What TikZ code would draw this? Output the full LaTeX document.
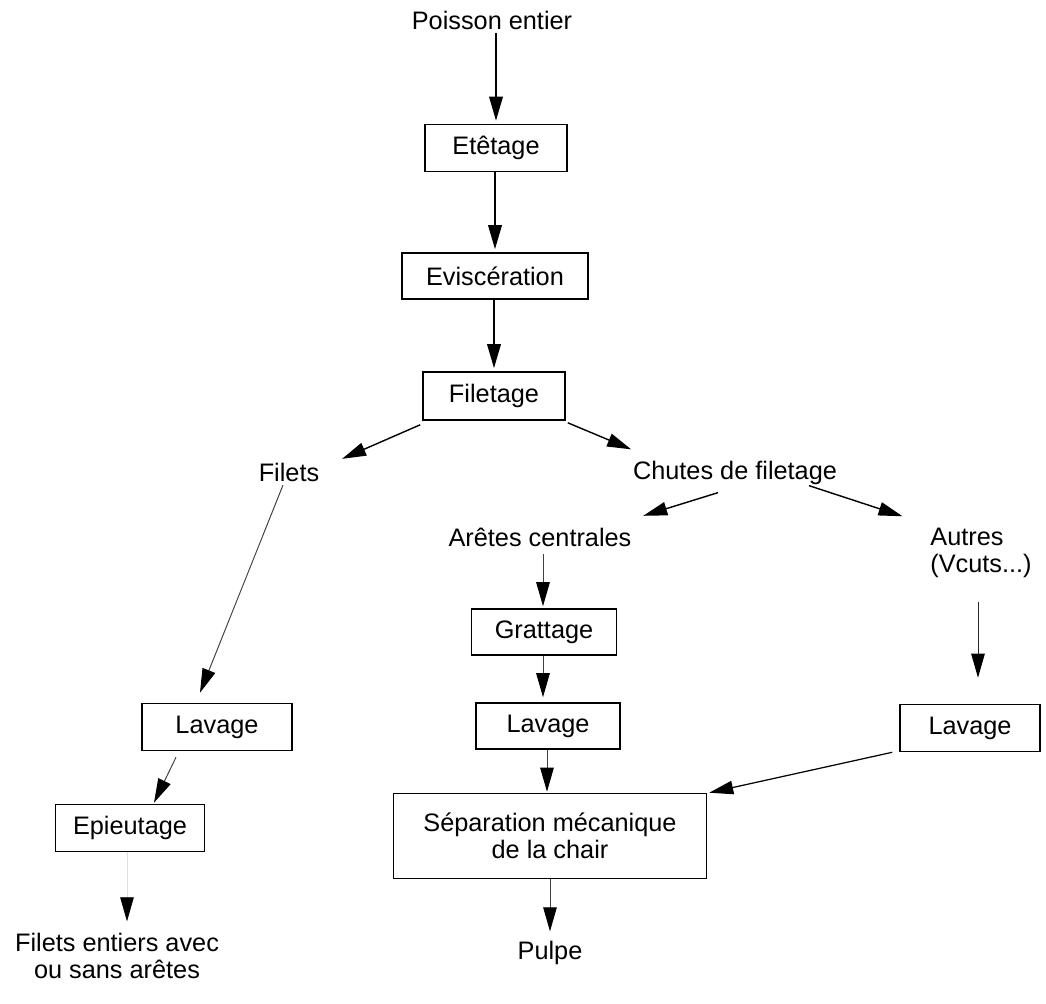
\documentclass[tikz,border=0pt]{standalone}
\usepackage{fontspec}
\setmainfont{Liberation Sans}
\usetikzlibrary{arrows.meta,calc}
\begin{document}
\begin{tikzpicture}[x=0.02cm,y=-0.02cm,
  every node/.style={font=\fontsize{14.4}{15.4}\selectfont, inner sep=2pt},
  stepbox/.style={draw, line width=0.9pt, minimum height=0.94cm},
  label/.style={},
  tip/.style={-{Triangle[length=4.8mm,width=2.7mm,black]}},
  heavy/.style={tip, line width=1.1pt},
  light/.style={tip, line width=0.55pt, draw=black!75},
  faint/.style={tip, line width=0.4pt, draw=black!12}]
  \useasboundingbox[fill=white] (0,0) rectangle (1046,1004);

  % main trunk
  \node[label] (poisson) at (492,20) {Poisson entier};
  \node[stepbox, minimum width=2.84cm] (etetage) at (496,148) {Etêtage};
  \node[stepbox, minimum width=3.72cm, minimum height=0.92cm] (evisc) at (495,276) {Eviscération};
  \node[stepbox, minimum width=2.84cm, minimum height=0.96cm] (filetage) at (494,396) {Filetage};

  % split of the fillets
  \node[label] (filets) at (289,472) {Filets};
  \node[label] (chutes) at (735,473) {Chutes de filetage};
  \node[label] (aretes) at (540,537) {Arêtes centrales};
  \node[label, align=left] (autres) at (981,553) {Autres\\(Vcuts...)};

  % processing boxes
  \node[stepbox, minimum width=2.9cm, minimum height=0.92cm] (grattage) at (544,632) {Grattage};
  \node[stepbox, minimum width=3.0cm] (lavL) at (217,727) {Lavage};
  \node[stepbox, minimum width=2.88cm, minimum height=0.92cm] (lavM) at (548,726) {Lavage};
  \node[stepbox, minimum width=2.8cm] (lavR) at (970,728) {Lavage};
  \node[stepbox, minimum width=2.98cm] (epieu) at (130,828) {Epieutage};
  \node[stepbox, minimum width=6.26cm, minimum height=1.7cm, align=center] (sep) at (550,836)
    {Séparation mécanique\\de la chair};

  % end products
  \node[label, align=center] (filent) at (117,956) {Filets entiers avec\\ou sans arêtes};
  \node[label] (pulpe) at (550,953) {Pulpe};

  % trunk connectors
  \draw[heavy] (etetage.north |- poisson.south) -- ($(etetage.north)+(0,-3)$);
  \draw[heavy] (etetage.south -| evisc.north) -- ($(evisc.north)+(0,-3)$);
  \draw[heavy] (evisc.south -| filetage.north) -- ($(filetage.north)+(0,-3)$);
  \draw[heavy, line width=0.8pt] ($(filetage.south west)+(-2,4)$) -- ($(filets.north east)+(19,0)$);
  \draw[heavy, line width=0.8pt] ($(filetage.south east)+(2,2)$) -- ($(chutes.north west)+(2,-8)$);
  \draw[heavy, line width=0.8pt] ($(chutes.south)+(-17,4)$) -- ($(aretes.north east)+(8,-8)$);
  \draw[heavy, line width=0.8pt] ($(chutes.south)+(74,-3)$) -- ($(autres.north west)+(-24,-8)$);

  % branch connectors
  \draw[light] ($(filets.south)+(-6,0)$) -- ($(lavL.north)+(-17,-10)$);
  \draw[light] ($(lavL.south)+(-41,6)$) -- ($(epieu.north)+(24,-1)$);
  \draw[faint] ($(epieu.south)+(-3,0)$) -- ($(filent.north)+(10,-8)$);
  \draw[light] ($(aretes.south)+(3,4)$) -- ($(grattage.north)+(-1,-2)$);
  \draw[light] ($(grattage.south)+(-1,0)$) -- ($(lavM.north)+(-5,-5)$);
  \draw[light] ($(lavM.south)+(-1,0)$) -- ($(sep.north)+(-3,-1)$);
  \draw[light] (sep.south) -- ($(pulpe.north)+(0,-6)$);
  \draw[light, draw=black!85] ($(autres.south)+(-3,20)$) -- ($(lavR.north)+(8,-26)$);
  \draw[heavy, line width=0.7pt] ($(lavR.south west)+(-7,0)$) -- ($(sep.north east)+(2,0)$);
\end{tikzpicture}
\end{document}
